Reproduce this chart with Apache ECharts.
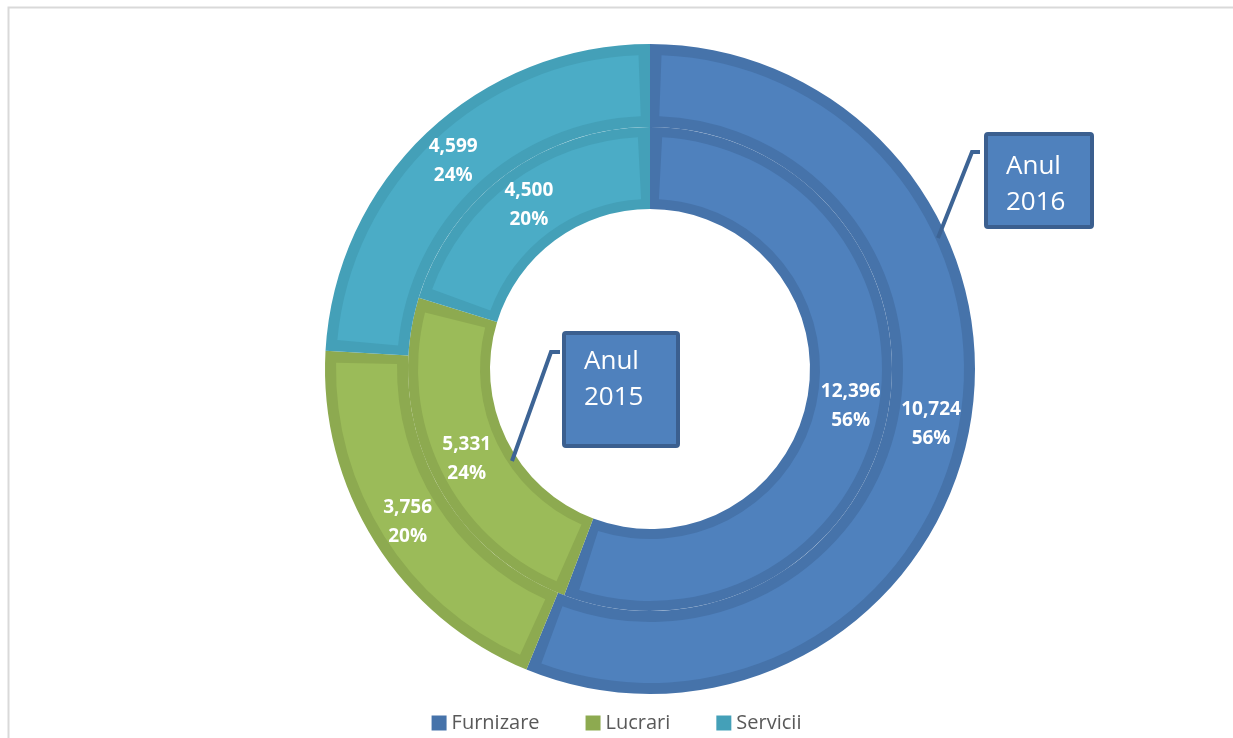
<!DOCTYPE html>
<html>
<head>
<meta charset="utf-8">
<script src="https://cdn.jsdelivr.net/npm/echarts@6/dist/echarts.min.js"></script>
<style>
html,body{margin:0;padding:0;background:#fff;}
#chart{width:1233px;height:738px;}
</style>
</head>
<body>
<div id="chart"></div>
<script>
const categories = ['Furnizare', 'Lucrari', 'Servicii'];
const values2016 = [10724, 3756, 4599];
const values2015 = [12396, 5331, 4500];
const ringLabels = ['Anul\n2016', 'Anul\n2015'];

const lightColors = ['#4F81BD', '#9BBB59', '#4BACC6'];
const darkColors = ['#4673AA', '#8DAA50', '#44A0B8'];

const chart = echarts.init(document.getElementById('chart'));
const center = [650, 369];

function mk(values, colors) {
  return categories.map((c, i) => ({ name: c, value: values[i], itemStyle: { color: colors[i] } }));
}
function fmt(p) {
  return p.value.toLocaleString('en-US') + '\n' + Math.round(p.percent) + '%';
}
const labelStyle = {
  show: true, position: 'inside', formatter: fmt,
  color: '#fff', fontFamily: 'Open Sans', fontWeight: 'bold', fontSize: 19, lineHeight: 29
};
const common = {
  type: 'pie', center: center, startAngle: 90, clockwise: true, silent: true,
  animation: false, labelLine: { show: false }, emphasis: { disabled: true }
};

chart.setOption({
  backgroundColor: '#fff',
  legend: {
    data: categories, bottom: 0, left: 'center', itemWidth: 15, itemHeight: 15, itemGap: 46,
    icon: 'rect', selectedMode: false,
    textStyle: { color: '#595959', fontFamily: 'Open Sans', fontSize: 20, padding: [0, 0, 0, 0] }
  },
  series: [
    Object.assign({}, common, { name: 'b2015', radius: [160, 242], data: mk(values2015, darkColors), label: { show: false }, z: 1 }),
    Object.assign({}, common, { name: 'b2016', radius: [242, 325], data: mk(values2016, darkColors), label: { show: false }, z: 1 }),
    Object.assign({}, common, { name: 'l2015', radius: [170, 232], padAngle: 6, data: mk(values2015, lightColors), label: labelStyle, z: 2 }),
    Object.assign({}, common, { name: 'l2016', radius: [253, 314], padAngle: 4.2, data: mk(values2016, lightColors), label: labelStyle, z: 2 })
  ],
  graphic: [
    { type: 'rect', shape: { x: 8.5, y: 7.5, width: 1300, height: 800 }, style: { fill: 'none', stroke: '#d9d9d9', lineWidth: 2 }, silent: true, z: 0 },
    // callout 2016
    { type: 'polyline', shape: { points: [[980, 152], [972, 152], [938, 238]] }, style: { stroke: '#3D6495', lineWidth: 4, fill: 'none' }, z: 10 },
    { type: 'rect', shape: { x: 986, y: 134, width: 106, height: 93, r: 2 }, style: { fill: '#4F81BD', stroke: '#3B5F8F', lineWidth: 4 }, z: 10 },
    { type: 'text', x: 1006, y: 149, style: { text: ringLabels[0], fill: '#fff', font: '26px "Open Sans"', lineHeight: 36 }, z: 11 },
    // callout 2015
    { type: 'polyline', shape: { points: [[560, 352], [551, 352], [512, 461]] }, style: { stroke: '#3D6495', lineWidth: 4, fill: 'none' }, z: 10 },
    { type: 'rect', shape: { x: 564, y: 333, width: 114, height: 113, r: 2 }, style: { fill: '#4F81BD', stroke: '#3B5F8F', lineWidth: 4 }, z: 10 },
    { type: 'text', x: 584, y: 344, style: { text: ringLabels[1], fill: '#fff', font: '26px "Open Sans"', lineHeight: 36 }, z: 11 }
  ]
});
</script>
</body>
</html>
